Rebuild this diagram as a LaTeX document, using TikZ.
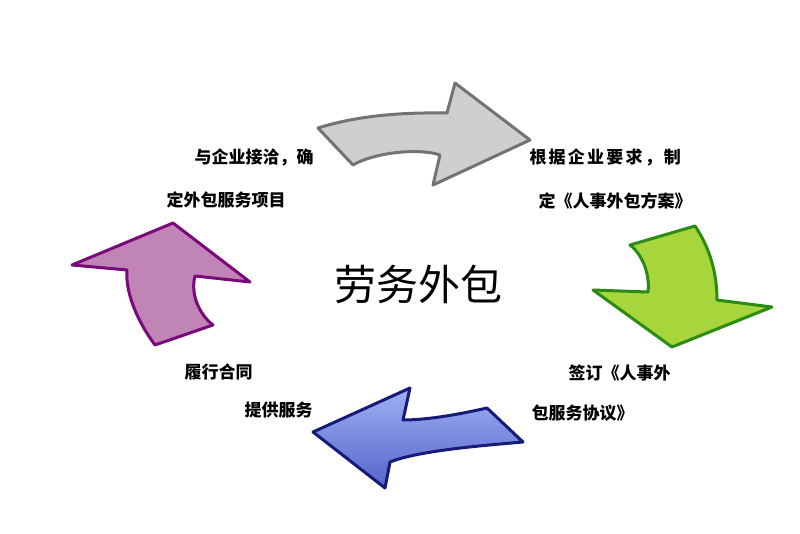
\documentclass[tikz,border=0pt]{standalone}
\usepackage{fontspec}
\newfontfamily\cjk{Noto Sans CJK SC}
\usetikzlibrary{positioning}

\begin{document}
\begin{tikzpicture}
[x=1pt, y=-1pt, line width=3pt, line join=round,
arrgray/.style={draw=black!55, fill=black!19},
arrgreen/.style={draw={rgb,255:red,43;green,140;blue,20}, fill={rgb,255:red,166;green,214;blue,60}},
arrblue/.style={draw={rgb,255:red,22;green,26;blue,120}, top color={rgb,255:red,160;green,176;blue,242}, bottom color={rgb,255:red,84;green,100;blue,204}},
arrpurple/.style={draw={rgb,255:red,122;green,10;blue,122}, fill={rgb,255:red,193;green,132;blue,182}},
txt/.style={inner sep=0pt, anchor=west, font=\cjk\bfseries\fontsize{17}{20}\selectfont}]

\useasboundingbox (0,0) rectangle (800,533);

% the four arrows
\draw[arrgray] (318,128) .. controls (350,118) and (390,112) .. (447,113) -- (455,83) -- (530,140)
  -- (433,185) -- (440,155) .. controls (420,148) and (375,152) .. (353,165) -- cycle;
\draw[arrgreen] (630,245) -- (695,226) .. controls (708,245) and (717,270) .. (717,300) -- (772,307)
  -- (672,347) -- (593,290) -- (648,292) .. controls (650,275) and (643,255) .. (630,245) -- cycle;
\draw[arrblue] (313,432) -- (410,388) -- (403,420) .. controls (430,420) and (465,413) .. (487,408)
  -- (523,442) .. controls (490,445) and (420,450) .. (390,462) -- (385,488) -- cycle;
\draw[arrpurple] (173,223) -- (250,282) -- (195,276) .. controls (190,295) and (200,315) .. (213,325)
  -- (155,345) .. controls (140,325) and (125,295) .. (127,270) -- (72,265) -- cycle;

\node[font=\cjk\fontsize{42}{46}\selectfont, inner sep=0pt] (center) at (418,284) {劳务外包};

\node[txt] (step1a) at (193,157) {与企业接洽，确};
\node[txt] (step1b) at (165,200) {定外包服务项目};
\node[txt] (step2a) at (528,157) {\addfontfeature{LetterSpace=13}根据企业要求，制};
\node[txt] (step2b) at (537,201) {定《人事外包方案》};
\node[txt] (step3a) at (567,373) {签订《人事外};
\node[txt] (step3b) at (530,413) {包服务协议》};
\node[txt] (step4a) at (183,372) {履行合同};
\node[txt] (step4b) at (243,410) {提供服务};

\end{tikzpicture}
\end{document}
